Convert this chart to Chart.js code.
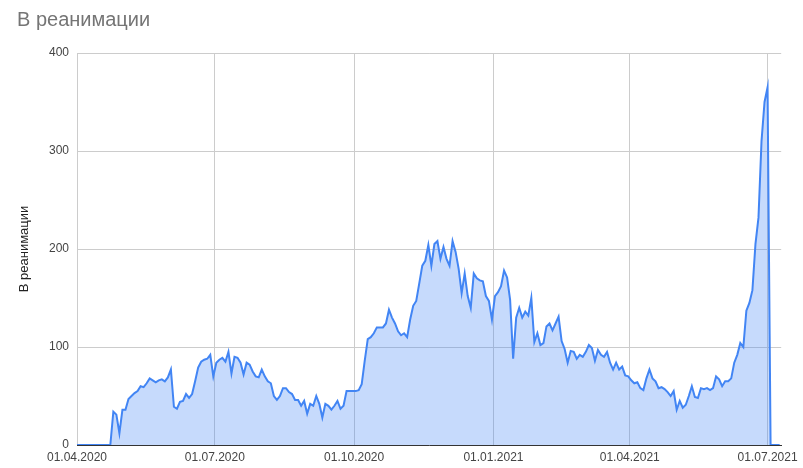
<!DOCTYPE html>
<html lang="ru">
<head>
<meta charset="utf-8">
<title>В реанимации</title>
<script src="https://cdn.jsdelivr.net/npm/chart.js@4.4.1/dist/chart.umd.min.js"></script>
<style>
    html, body {
        margin: 0;
        padding: 0;
        background: #ffffff;
    }
    #chart-box {
        position: relative;
        width: 803px;
        height: 468px;
    }
</style>
</head>
<body>
<div id="chart-box">
    <canvas id="icuChart"></canvas>
</div>
<script>
// first value is 01.04.2020, one value every 2 days
const startDate = '01.04.2020';
const stepDays = 2;
const icuValues = [
    0, 0, 0, 0, 0, 0, 0, 0, 0, 0,
    0, 0, 34, 31, 12, 36, 36, 47, 50, 53,
    55, 60, 59, 63, 68, 66, 64, 66, 67, 65,
    69, 77, 39, 37, 44, 45, 52, 48, 52, 65,
    79, 85, 87, 88, 92, 70, 84, 87, 89, 85,
    95, 73, 90, 89, 84, 72, 84, 82, 75, 70,
    69, 77, 70, 65, 63, 50, 46, 50, 58, 58,
    54, 52, 46, 46, 40, 45, 32, 42, 40, 50,
    42, 28, 42, 40, 36, 40, 45, 37, 40, 55,
    55, 55, 55, 56, 62, 86, 108, 110, 114, 120,
    120, 120, 124, 138, 130, 124, 116, 112, 114, 110,
    128, 142, 147, 165, 183, 188, 204, 183, 205, 208,
    190, 202, 190, 183, 208, 197, 180, 155, 175, 152,
    140, 175, 170, 168, 167, 152, 147, 128, 152, 156,
    162, 178, 171, 148, 88, 130, 140, 130, 136, 132,
    150, 105, 114, 102, 104, 121, 124, 117, 124, 131,
    106, 98, 84, 96, 95, 88, 92, 90, 95, 102,
    99, 86, 97, 92, 90, 95, 84, 77, 84, 77,
    80, 71, 70, 66, 63, 64, 58, 56, 68, 77,
    68, 65, 58, 59, 57, 54, 50, 55, 36, 45,
    38, 41, 50, 60, 49, 48, 58, 57, 58, 56,
    58, 70, 67, 60, 65, 65, 68, 84, 92, 104,
    100, 137, 145, 158, 205, 232, 310, 350, 365, 0,
    0, 0, 0
];

// x ticks: days since startDate
const tickDays = [0, 91, 183, 275, 365, 456];
const tickLabels = ['01.04.2020', '01.07.2020', '01.10.2020', '01.01.2021', '01.04.2021', '01.07.2021'];
const yTicks = [0, 100, 200, 300, 400];

const chartTitle = 'В реанимации';
const seriesName = 'В реанимации';

const points = icuValues.map((v, i) => ({ x: i * stepDays, y: v }));

Chart.defaults.font.family = "'Liberation Sans', Arial, sans-serif";
Chart.defaults.font.size = 12;

const ctx = document.getElementById('icuChart').getContext('2d');
const icuChart = new Chart(ctx, {
    type: 'line',
    data: {
        datasets: [{
            label: seriesName,
            data: points,
            borderColor: '#4285f4',
            backgroundColor: 'rgba(66, 133, 244, 0.3)',
            borderWidth: 2,
            fill: 'origin',
            pointRadius: 0,
            tension: 0
        }]
    },
    options: {
        responsive: true,
        maintainAspectRatio: false,
        animation: false,
        layout: {
            padding: { left: 17, right: 21, top: 0, bottom: 0 }
        },
        plugins: {
            legend: { display: false },
            tooltip: { enabled: false },
            title: {
                display: true,
                text: chartTitle,
                align: 'start',
                color: '#757575',
                font: { size: 20, weight: 'normal' },
                padding: { top: 8, bottom: 21 }
            }
        },
        scales: {
            x: {
                type: 'linear',
                min: 0,
                max: 465,
                afterBuildTicks: (scale) => {
                    scale.ticks = tickDays.map(d => ({ value: d }));
                },
                afterFit: (scale) => {
                    scale.height = 23;
                },
                ticks: {
                    autoSkip: false,
                    maxRotation: 0,
                    padding: 5,
                    color: '#444444',
                    callback: (value) => tickLabels[tickDays.indexOf(value)]
                },
                grid: {
                    color: '#cccccc',
                    drawTicks: false
                },
                border: {
                    color: '#333333'
                }
            },
            y: {
                min: 0,
                max: 400,
                afterBuildTicks: (scale) => {
                    scale.ticks = yTicks.map(v => ({ value: v }));
                },
                afterFit: (scale) => {
                    scale.width = 60;
                },
                ticks: {
                    padding: 8,
                    color: '#444444'
                },
                grid: {
                    color: '#cccccc',
                    drawTicks: false
                },
                border: {
                    display: false
                },
                title: {
                    display: true,
                    text: seriesName,
                    color: '#222222',
                    font: { size: 13 },
                    padding: { top: 0, bottom: 0 }
                }
            }
        }
    }
});
</script>
</body>
</html>
